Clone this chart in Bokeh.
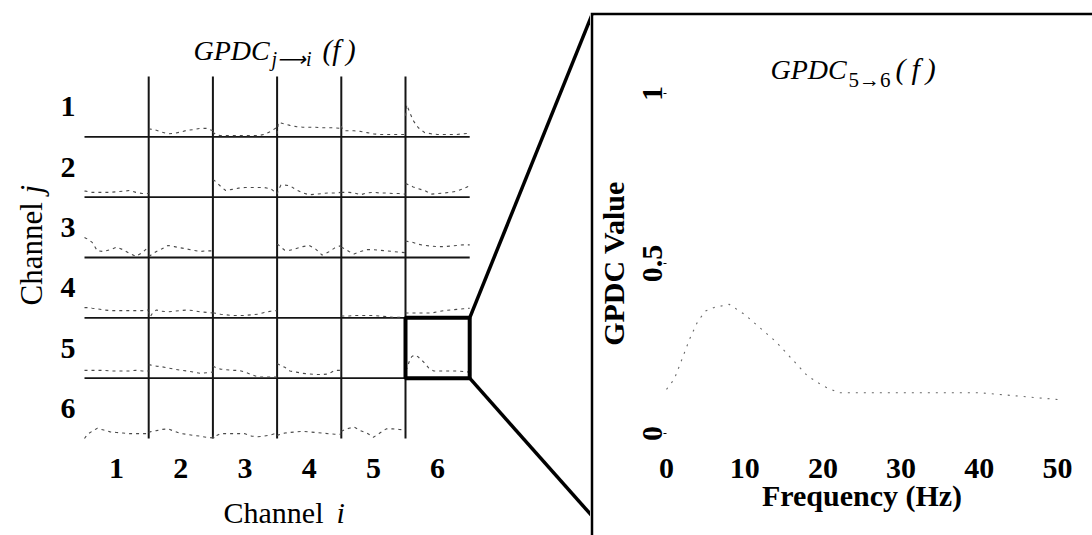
import numpy as np
from bokeh.plotting import figure
from bokeh.models import Range1d, FixedTicker, Label, Spacer
from bokeh.layouts import row, column
from bokeh.embed import file_html
from bokeh.resources import INLINE

# ---------------------------------------------------------------- data
CHANNELS = ["1", "2", "3", "4", "5", "6"]
F_MAX = 50.0

# frequency samples (Hz) of the small multiples
FREQ = [0, 1, 3, 6, 10, 15, 20, 25, 30, 35, 40, 45, 50]

# GPDC_j_i : directed coherence from channel j (row) to channel i (column)
GPDC_1_2 = [0.13, 0.13, 0.12, 0.11, 0.08, 0.05, 0.06, 0.08, 0.11, 0.12, 0.14, 0.14, 0.10]
GPDC_1_3 = [0.08, 0.06, 0.03, 0.02, 0.02, 0.02, 0.02, 0.02, 0.02, 0.02, 0.04, 0.09, 0.16]
GPDC_1_4 = [0.05, 0.24, 0.23, 0.21, 0.19, 0.17, 0.16, 0.16, 0.16, 0.15, 0.15, 0.15, 0.14]
GPDC_1_5 = [0.18, 0.12, 0.10, 0.10, 0.10, 0.09, 0.07, 0.05, 0.04, 0.04, 0.04, 0.04, 0.04]
GPDC_1_6 = [0.35, 0.53, 0.42, 0.27, 0.15, 0.07, 0.05, 0.04, 0.04, 0.04, 0.04, 0.05, 0.06]

GPDC_2_1 = [0.10, 0.10, 0.09, 0.08, 0.08, 0.08, 0.08, 0.09, 0.10, 0.11, 0.08, 0.06, 0.06]
GPDC_2_3 = [0.28, 0.28, 0.24, 0.18, 0.11, 0.13, 0.15, 0.16, 0.16, 0.16, 0.16, 0.14, 0.06]
GPDC_2_4 = [0.05, 0.12, 0.20, 0.20, 0.19, 0.12, 0.07, 0.04, 0.05, 0.06, 0.07, 0.07, 0.08]
GPDC_2_5 = [0.08, 0.08, 0.08, 0.08, 0.07, 0.04, 0.07, 0.08, 0.07, 0.07, 0.06, 0.06, 0.05]
GPDC_2_6 = [0.22, 0.22, 0.20, 0.17, 0.14, 0.11, 0.05, 0.06, 0.07, 0.08, 0.10, 0.14, 0.19]

GPDC_3_1 = [0.33, 0.32, 0.30, 0.25, 0.11, 0.10, 0.13, 0.17, 0.13, 0.07, 0.02, 0.08, 0.18]
GPDC_3_2 = [0.03, 0.03, 0.06, 0.10, 0.14, 0.20, 0.18, 0.16, 0.14, 0.12, 0.10, 0.11, 0.11]
GPDC_3_4 = [0.22, 0.21, 0.17, 0.12, 0.12, 0.15, 0.18, 0.20, 0.14, 0.04, 0.09, 0.16, 0.20]
GPDC_3_5 = [0.17, 0.16, 0.14, 0.10, 0.06, 0.10, 0.13, 0.13, 0.12, 0.11, 0.10, 0.09, 0.08]
GPDC_3_6 = [0.27, 0.27, 0.26, 0.25, 0.22, 0.20, 0.19, 0.18, 0.18, 0.19, 0.20, 0.21, 0.21]

GPDC_4_1 = [0.17, 0.17, 0.17, 0.16, 0.15, 0.13, 0.12, 0.12, 0.12, 0.12, 0.12, 0.12, 0.13]
GPDC_4_2 = [0.10, 0.01, 0.08, 0.13, 0.11, 0.10, 0.11, 0.12, 0.13, 0.12, 0.10, 0.09, 0.08]
GPDC_4_3 = [0.08, 0.08, 0.07, 0.06, 0.05, 0.04, 0.04, 0.04, 0.05, 0.06, 0.09, 0.11, 0.12]
GPDC_4_5 = [0.03, 0.03, 0.03, 0.03, 0.04, 0.04, 0.04, 0.04, 0.03, 0.02, 0.01, 0.01, 0.01]
GPDC_4_6 = [0.08, 0.08, 0.08, 0.08, 0.08, 0.08, 0.08, 0.10, 0.12, 0.13, 0.14, 0.15, 0.16]

GPDC_5_1 = [0.13, 0.13, 0.13, 0.13, 0.13, 0.13, 0.12, 0.12, 0.12, 0.12, 0.13, 0.12, 0.12]
GPDC_5_2 = [0.22, 0.22, 0.21, 0.20, 0.19, 0.17, 0.15, 0.13, 0.12, 0.10, 0.08, 0.09, 0.10]
GPDC_5_3 = [0.20, 0.19, 0.17, 0.15, 0.14, 0.13, 0.13, 0.10, 0.06, 0.02, 0.02, 0.02, 0.02]
GPDC_5_4 = [0.24, 0.23, 0.21, 0.18, 0.12, 0.10, 0.08, 0.07, 0.06, 0.06, 0.07, 0.13, 0.13]

GPDC_6_1 = [0.00, 0.03, 0.08, 0.12, 0.17, 0.14, 0.11, 0.10, 0.09, 0.08, 0.08, 0.08, 0.08]
GPDC_6_2 = [0.10, 0.11, 0.12, 0.13, 0.15, 0.16, 0.12, 0.08, 0.07, 0.05, 0.04, 0.02, 0.01]
GPDC_6_3 = [0.05, 0.00, 0.05, 0.08, 0.08, 0.08, 0.08, 0.08, 0.04, 0.03, 0.04, 0.06, 0.09]
GPDC_6_4 = [0.05, 0.06, 0.07, 0.09, 0.10, 0.11, 0.12, 0.11, 0.10, 0.09, 0.08, 0.07, 0.07]
GPDC_6_5 = [0.12, 0.13, 0.15, 0.17, 0.19, 0.13, 0.09, 0.02, 0.09, 0.16, 0.16, 0.15, 0.14]

# the 5 -> 6 pair, sampled more finely (shown in the grid and enlarged)
FREQ_5_6 = [0, 1, 2, 3, 4, 5, 6, 8, 10, 12, 14, 16, 18, 20, 22, 25, 30, 35, 40, 45, 50]
GPDC_5_6 = [0.13, 0.16, 0.22, 0.28, 0.33, 0.36, 0.37, 0.38, 0.35, 0.31, 0.27, 0.22,
            0.17, 0.14, 0.12, 0.12, 0.12, 0.12, 0.12, 0.11, 0.10]

FREQ_TICKS = [0, 10, 20, 30, 40, 50]
VALUE_TICKS = [0, 0.5, 1]
VALUE_TICK_LABELS = ["0", "0.5", "1"]

CELLS = {
    (1, 2): (FREQ, GPDC_1_2), (1, 3): (FREQ, GPDC_1_3), (1, 4): (FREQ, GPDC_1_4),
    (1, 5): (FREQ, GPDC_1_5), (1, 6): (FREQ, GPDC_1_6),
    (2, 1): (FREQ, GPDC_2_1), (2, 3): (FREQ, GPDC_2_3), (2, 4): (FREQ, GPDC_2_4),
    (2, 5): (FREQ, GPDC_2_5), (2, 6): (FREQ, GPDC_2_6),
    (3, 1): (FREQ, GPDC_3_1), (3, 2): (FREQ, GPDC_3_2), (3, 4): (FREQ, GPDC_3_4),
    (3, 5): (FREQ, GPDC_3_5), (3, 6): (FREQ, GPDC_3_6),
    (4, 1): (FREQ, GPDC_4_1), (4, 2): (FREQ, GPDC_4_2), (4, 3): (FREQ, GPDC_4_3),
    (4, 5): (FREQ, GPDC_4_5), (4, 6): (FREQ, GPDC_4_6),
    (5, 1): (FREQ, GPDC_5_1), (5, 2): (FREQ, GPDC_5_2), (5, 3): (FREQ, GPDC_5_3),
    (5, 4): (FREQ, GPDC_5_4), (5, 6): (FREQ_5_6, GPDC_5_6),
    (6, 1): (FREQ, GPDC_6_1), (6, 2): (FREQ, GPDC_6_2), (6, 3): (FREQ, GPDC_6_3),
    (6, 4): (FREQ, GPDC_6_4), (6, 5): (FREQ, GPDC_6_5),
}
ZOOM_PAIR = (5, 6)

# ---------------------------------------------------------------- layout (pixels)
SERIF = "Liberation Serif"
H = 535
LEFT_W = 590
RIGHT_W = 1092 - LEFT_W
GRID_X0, GRID_Y0 = 84.0, 438.0          # bottom-left corner of the channel grid
CELL_W, CELL_H = 64.2, 60.33
N = len(CHANNELS)
BASE_SHIFT = 0.33                       # baseline correction, in em


def put_text(fig, conv, px, py, text, size, style="normal", vertical=False):
    """Place a text with its alphabetic baseline starting at page pixel (px, py)."""
    cx, cy = conv
    d = BASE_SHIFT * size
    if vertical:
        px -= d
    else:
        py -= d
    fig.add_layout(Label(x=cx(px), y=cy(py), text=text, text_font=SERIF,
                         text_font_style=style, text_font_size=f"{size}px",
                         text_color="black", text_baseline="alphabetic",
                         text_align="left", angle=np.pi / 2 if vertical else 0))


# ================================================================ channel grid
left = figure(width=LEFT_W, height=H, output_backend="svg", toolbar_location=None,
              x_range=Range1d(-GRID_X0 / CELL_W, (LEFT_W - GRID_X0) / CELL_W),
              y_range=Range1d(-(H - GRID_Y0) / CELL_H, GRID_Y0 / CELL_H),
              min_border=0)
left.outline_line_color = None
left.grid.visible = False
left.background_fill_color = "white"
left.border_fill_color = "white"


def lx(px):
    return (px - GRID_X0) / CELL_W


def ly(py):
    return (GRID_Y0 - py) / CELL_H


centers = [k + 0.5 for k in range(N)]
left.xaxis.fixed_location = 0
left.xaxis.ticker = FixedTicker(ticks=centers)
left.xaxis.major_label_overrides = {c: CHANNELS[k] for k, c in enumerate(centers)}
left.yaxis.fixed_location = 0
left.yaxis.ticker = FixedTicker(ticks=centers)
left.yaxis.major_label_overrides = {c: CHANNELS[N - 1 - k] for k, c in enumerate(centers)}
for ax in (left.xaxis, left.yaxis):
    ax.axis_line_color = None
    ax.major_tick_line_color = None
    ax.minor_tick_line_color = None
    ax.major_label_text_font = SERIF
    ax.major_label_text_font_size = "30px"
    ax.major_label_text_font_style = "bold"
    ax.major_label_text_color = "black"
left.xaxis.major_label_standoff = 14
left.yaxis.major_label_standoff = 3

# grid lines: baselines of rows 1..5 and left edges of columns 2..6
left.segment(x0=[0] * (N - 1), x1=[N] * (N - 1), y0=list(range(1, N)), y1=list(range(1, N)),
             line_color="#151515", line_width=1.8)
left.segment(x0=list(range(1, N)), x1=list(range(1, N)), y0=[0] * (N - 1), y1=[N] * (N - 1),
             line_color="#151515", line_width=2.0)

# spectra inside the cells
xs, ys = [], []
for (j, i), (f, v) in CELLS.items():
    xs.append(list((i - 1) + np.asarray(f) / F_MAX))
    ys.append(list((N - j) + np.asarray(v)))
left.multi_line(xs=xs, ys=ys, line_color="#4a4a4a", line_width=1.1, line_dash="3 4")

# highlighted cell and connectors to the enlarged panel
zj, zi = ZOOM_PAIR
bx0, bx1 = zi - 1, zi
by0, by1 = N - zj, N - zj + 1
left.quad(left=bx0, right=bx1, bottom=by0, top=by1, fill_color=None,
          line_color="black", line_width=4)
left.segment(x0=[bx1, bx1], y0=[by1, by0], x1=[lx(592), lx(592)], y1=[ly(13), ly(516)],
             line_color="black", line_width=3.5)

# titles
LC = (lx, ly)
put_text(left, LC, 193, 59, "GPDC", 28, "italic")
put_text(left, LC, 271, 65, "j\u27f6i", 20, "italic")
put_text(left, LC, 322, 59, "(f\u2009)", 29, "italic")

put_text(left, LC, 223, 522, "Channel", 30)
put_text(left, LC, 336, 522, "i", 30, "italic")
put_text(left, LC, 41, 305, "Channel", 31, vertical=True)
put_text(left, LC, 41, 193, "j", 31, "italic", vertical=True)

# ================================================================ enlarged panel
TOP_GAP = 12
EDGE = 3
RH = H - TOP_GAP
FR_X0 = LEFT_W + EDGE            # frame left (page px)
FR_X1 = 1092
FR_Y0 = TOP_GAP + EDGE           # frame top (page px)
FR_Y1 = H
F0_PX, F50_PX = 666.0, 1057.0
V0_PY, V1_PY = 433.0, 93.0
PX_HZ = (F50_PX - F0_PX) / F_MAX
PX_V = V0_PY - V1_PY


def rx(px):
    return (px - F0_PX) / PX_HZ


def ry(py):
    return (V0_PY - py) / PX_V


right = figure(width=RIGHT_W, height=RH, output_backend="svg", toolbar_location=None,
               x_range=Range1d(rx(FR_X0), rx(FR_X1)),
               y_range=Range1d(ry(FR_Y1), ry(FR_Y0)),
               min_border_left=EDGE, min_border_top=EDGE, min_border_right=0,
               min_border_bottom=0)
right.outline_line_color = None
right.grid.visible = False
right.background_fill_color = "white"
right.border_fill_color = "black"

right.line(FREQ_5_6, GPDC_5_6, line_color="#6a6a6a", line_width=1.1, line_dash="2 6")

right.xaxis.fixed_location = 0
right.xaxis.bounds = (0, F_MAX)
right.xaxis.ticker = FixedTicker(ticks=FREQ_TICKS)
right.xaxis.axis_line_color = None
right.xaxis.major_tick_line_color = None
right.xaxis.minor_tick_line_color = None
right.xaxis.major_label_standoff = 19
right.xaxis.axis_label = "Frequency (Hz)"
right.xaxis.axis_label_standoff = -2

right.yaxis.fixed_location = 0
right.yaxis.bounds = (0, 1)
right.yaxis.ticker = FixedTicker(ticks=VALUE_TICKS)
right.yaxis.major_label_overrides = dict(zip(VALUE_TICKS, VALUE_TICK_LABELS))
right.yaxis.major_label_orientation = "vertical"
right.yaxis.axis_line_color = None
right.yaxis.major_tick_line_color = "black"
right.yaxis.major_tick_out = 3
right.yaxis.major_tick_in = 0
right.yaxis.minor_tick_line_color = None
right.yaxis.major_label_standoff = 2
right.yaxis.axis_label = "GPDC Value"
right.yaxis.axis_label_standoff = 10

for ax in (right.xaxis, right.yaxis):
    ax.major_label_text_font = SERIF
    ax.major_label_text_font_size = "30px"
    ax.major_label_text_font_style = "bold"
    ax.major_label_text_color = "black"
    ax.axis_label_text_font = SERIF
    ax.axis_label_text_font_size = "30px"
    ax.axis_label_text_font_style = "bold"
    ax.axis_label_text_color = "black"

RC = (rx, ry)
put_text(right, RC, 770, 78, "GPDC", 28, "italic")
put_text(right, RC, 848, 86, "5\u21926", 21)
put_text(right, RC, 895, 78, "(\u2009f\u2009)", 30, "italic")

layout = row(left, column(Spacer(width=RIGHT_W, height=TOP_GAP), right))

with open("out.html", "w") as fh:
    fh.write(file_html(layout, INLINE, title="GPDC"))
